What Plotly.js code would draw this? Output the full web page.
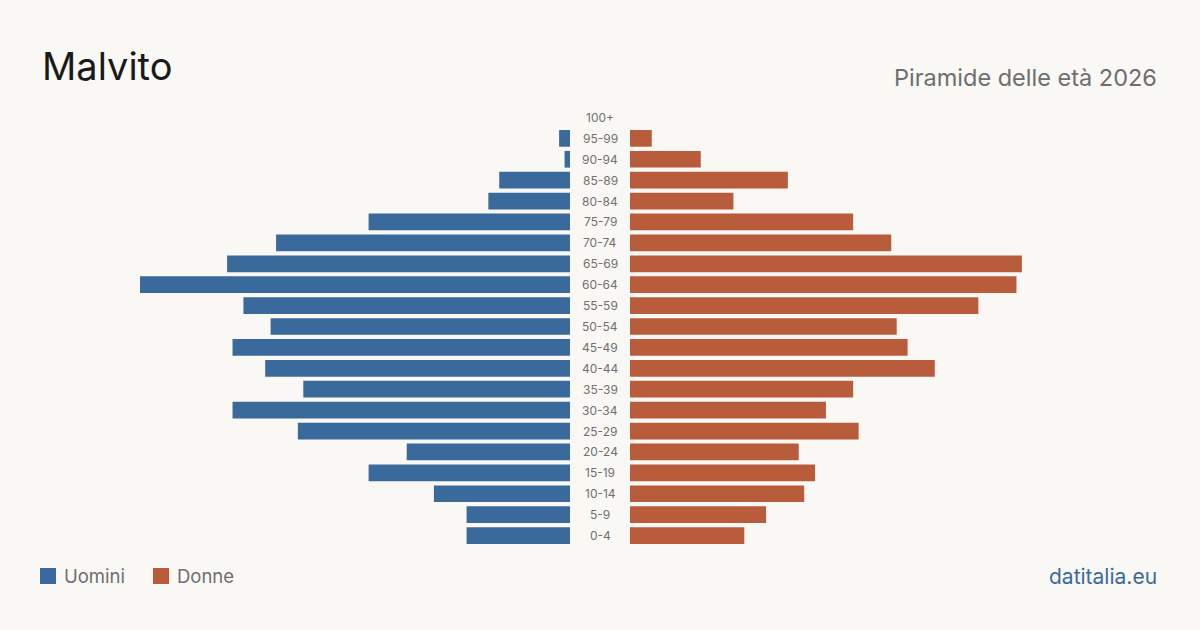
<!DOCTYPE html>
<html><head><meta charset="utf-8">
<script src="https://cdn.plot.ly/plotly-3.0.1.min.js"></script>
<style>html,body{margin:0;padding:0;background:#f9f8f4;}#chart{width:1200px;height:630px;}</style>
</head><body><div id="chart"></div>
<script>
const ageGroups = ["0-4","5-9","10-14","15-19","20-24","25-29","30-34","35-39","40-44","45-49","50-54","55-59","60-64","65-69","70-74","75-79","80-84","85-89","90-94","95-99","100+"];
const men   = [19,19,25,37,30,50,62,49,56,62,55,60,79,63,54,37,15,13,1,2,0];
const women = [21,25,32,34,31,42,36,41,56,51,49,64,71,72,48,41,19,29,13,4,0];
const seriesNames = ["Uomini","Donne"];
const colors = {men:"#3a6a9b", women:"#b95c3c"};
const font = "Inter, 'Noto Sans', sans-serif";
const maxVal = Math.max(...men, ...women);

const traces = [
  {type:"bar", orientation:"h", x:men, y:ageGroups, xaxis:"x", yaxis:"y", marker:{color:colors.men}, width:0.8, hoverinfo:"x+y", name:seriesNames[0]},
  {type:"bar", orientation:"h", x:women, y:ageGroups, xaxis:"x2", yaxis:"y", marker:{color:colors.women}, width:0.8, hoverinfo:"x+y", name:seriesNames[1]}
];

const annotations = ageGroups.map(g => ({
  x:0.5, xref:"paper", y:g, yref:"y", text:g, showarrow:false,
  font:{family:font, size:12, color:"#707070"}, xanchor:"center", yanchor:"middle"
}));

const W = 1200, H = 630, ml = 140, mr = 140, mt = 107, mb = 84;
const pw = W - ml - mr;
function px(x){ return (x - ml) / pw; }
function py(y){ return (H - mb - y) / (H - mt - mb); }

annotations.push(
  {x:px(40), y:py(66), xref:"paper", yref:"paper", text:"Malvito", showarrow:false, xanchor:"left", yanchor:"bottom", yshift:-25, font:{family:font, size:38, color:"#1a1a1a"}},
  {x:px(1159), y:py(86), xref:"paper", yref:"paper", text:"Piramide delle età 2026", showarrow:false, xanchor:"right", yanchor:"bottom", yshift:-8, font:{family:font, size:23.5, color:"#6e6e6e"}},
  {x:px(64), y:py(576), xref:"paper", yref:"paper", text:"Uomini", showarrow:false, xanchor:"left", yanchor:"middle", xshift:-2, font:{family:font, size:18.5, color:"#6e6e6e"}},
  {x:px(177), y:py(576), xref:"paper", yref:"paper", text:"Donne", showarrow:false, xanchor:"left", yanchor:"middle", xshift:-2, font:{family:font, size:18.5, color:"#6e6e6e"}},
  {x:px(1159), y:py(576), xref:"paper", yref:"paper", text:"datitalia.eu", showarrow:false, xanchor:"right", yanchor:"middle", xshift:0, font:{family:font, size:21, color:"#3a6a9b"}}
);

const shapes = [
  {type:"rect", xref:"paper", yref:"paper", x0:px(40), x1:px(56), y0:py(584), y1:py(568), fillcolor:colors.men, line:{width:0}},
  {type:"rect", xref:"paper", yref:"paper", x0:px(153), x1:px(169), y0:py(584), y1:py(568), fillcolor:colors.women, line:{width:0}}
];

const layout = {
  width:W, height:H,
  paper_bgcolor:"#f9f8f4", plot_bgcolor:"#f9f8f4",
  margin:{l:ml, r:mr, t:mt, b:mb, pad:0},
  showlegend:false,
  bargap:0.2,
  xaxis:{domain:[0, 430/920], range:[maxVal, 0], showgrid:false, zeroline:false, showticklabels:false, ticks:""},
  xaxis2:{domain:[490/920, 1], range:[0, maxVal], showgrid:false, zeroline:false, showticklabels:false, ticks:""},
  yaxis:{type:"category", categoryorder:"array", categoryarray:ageGroups, range:[-0.5, ageGroups.length-0.5], showticklabels:false, showgrid:false, zeroline:false, ticks:""},
  annotations:annotations,
  shapes:shapes,
  font:{family:font}
};

Plotly.newPlot("chart", traces, layout, {displayModeBar:false, staticPlot:true});
</script></body></html>
